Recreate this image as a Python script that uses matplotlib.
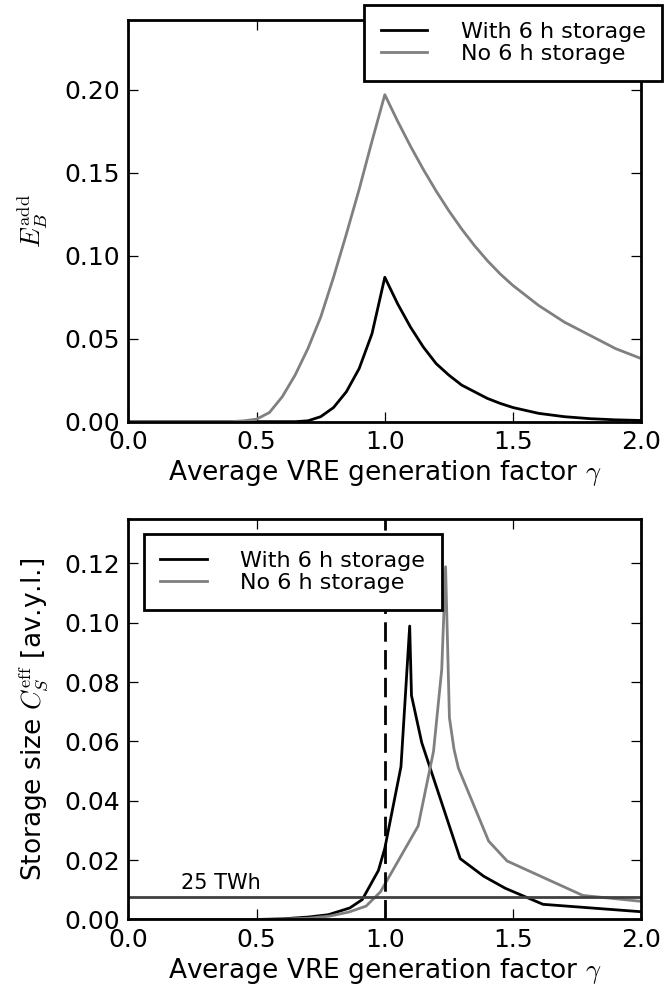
import numpy as np
import matplotlib
matplotlib.use("Agg")
import matplotlib.pyplot as plt

plt.rcParams['mathtext.fontset'] = 'cm'
plt.rcParams['font.family'] = 'DejaVu Sans'

# Datos
# Panel superior: energia de respaldo adicional E_B^add
gamma_top_con = [0.0, 0.65, 0.70, 0.75, 0.80, 0.85, 0.90, 0.95, 1.0,
                 1.05, 1.10, 1.15, 1.20, 1.25, 1.30, 1.35, 1.40, 1.45,
                 1.50, 1.60, 1.70, 1.80, 1.90, 2.0]
eb_con = [0.0, 0.0, 0.0005, 0.003, 0.0085, 0.018, 0.032, 0.053, 0.087,
          0.071, 0.057, 0.045, 0.035, 0.028, 0.022, 0.018, 0.014, 0.011,
          0.0085, 0.005, 0.003, 0.0018, 0.0011, 0.0007]

gamma_top_sin = [0.0, 0.40, 0.45, 0.50, 0.55, 0.60, 0.65, 0.70, 0.75, 0.80,
                 0.85, 0.90, 0.95, 1.0, 1.05, 1.10, 1.15, 1.20, 1.25, 1.30,
                 1.35, 1.40, 1.45, 1.50, 1.60, 1.70, 1.80, 1.90, 2.0]
eb_sin = [0.0, 0.0, 0.0005, 0.0015, 0.0055, 0.015, 0.028, 0.044, 0.063,
          0.087, 0.113, 0.140, 0.169, 0.197, 0.181, 0.166, 0.152, 0.139,
          0.127, 0.116, 0.106, 0.097, 0.089, 0.082, 0.070, 0.060, 0.052,
          0.044, 0.038]

# Panel inferior: tamano de almacenamiento C_S^eff
gamma_bot_con = [0.0, 0.5, 0.6, 0.7, 0.78, 0.864, 0.912, 0.975, 1.0, 1.063,
                 1.097, 1.104, 1.144, 1.294, 1.385, 1.47, 1.617, 2.0]
cs_con = [0.0, 0.0, 0.0002, 0.0008, 0.0016, 0.0039, 0.0067, 0.0165, 0.024,
          0.0515, 0.0989, 0.0755, 0.0596, 0.0205, 0.0146, 0.0105, 0.0051,
          0.0026]

gamma_bot_sin = [0.0, 0.55, 0.7, 0.783, 0.86, 0.927, 0.983, 1.13, 1.19,
                 1.222, 1.237, 1.252, 1.27, 1.287, 1.405, 1.477, 1.772, 2.0]
cs_sin = [0.0, 0.0, 0.0004, 0.0011, 0.0025, 0.0045, 0.0093, 0.0315, 0.0567,
          0.0843, 0.1189, 0.068, 0.0573, 0.051, 0.0264, 0.0197, 0.0081,
          0.0061]

nivel_25twh = 0.0077
etiquetas = ['With 6 h storage', 'No 6 h storage']

fig = plt.figure(figsize=(6.66, 9.94), dpi=100)
ax1 = fig.add_axes([0.1928, 0.5758, 0.770, 0.4041])
ax2 = fig.add_axes([0.1928, 0.0750, 0.770, 0.4029])


def estilo_ejes(ax):
    for s in ax.spines.values():
        s.set_linewidth(2)
    ax.tick_params(direction='in', top=True, right=True, length=7,
                   width=0.9, labelsize=18, pad=6)
    ax.set_xlim(0, 2)
    ax.set_xticks([0.0, 0.5, 1.0, 1.5, 2.0])
    ax.set_xticklabels(['%.1f' % v for v in [0.0, 0.5, 1.0, 1.5, 2.0]])
    ax.set_xlabel(r'Average VRE generation factor $\gamma$', fontsize=19,
                  labelpad=3)


def leyenda(ax, loc, ancla):
    leg = ax.legend(loc=loc, bbox_to_anchor=ancla, borderaxespad=0,
                    fontsize=16, fancybox=False, handlelength=2.1,
                    handletextpad=1.5, labelspacing=0.1, borderpad=0.75,
                    framealpha=1)
    leg.get_frame().set_linewidth(2)
    leg.get_frame().set_edgecolor('black')
    return leg


# 1. PANEL SUPERIOR
ax1.plot(gamma_top_con, eb_con, '-', color='black', lw=2, label=etiquetas[0])
ax1.plot(gamma_top_sin, eb_sin, '-', color='#808080', lw=2, label=etiquetas[1])
estilo_ejes(ax1)
ax1.set_ylim(0, 0.242)
yt1 = [0.0, 0.05, 0.10, 0.15, 0.20]
ax1.set_yticks(yt1)
ax1.set_yticklabels(['%.2f' % v for v in yt1])
ax1.set_ylabel(r'$E_B^{\rm add}$', fontsize=19, labelpad=10)
leyenda(ax1, 'upper right', (1.0406, 1.037))

# 2. PANEL INFERIOR
ax2.plot(gamma_bot_con, cs_con, '-', color='black', lw=2, label=etiquetas[0])
ax2.plot(gamma_bot_sin, cs_sin, '-', color='#808080', lw=2, label=etiquetas[1])
ax2.axvline(1.0, color='black', lw=2, dashes=(7, 3))
ax2.axhline(nivel_25twh, color='#404040', lw=2)
ax2.text(0.205, nivel_25twh + 0.0012, '25 TWh', fontsize=15, va='bottom')
estilo_ejes(ax2)
ax2.set_ylim(0, 0.135)
yt2 = [0.0, 0.02, 0.04, 0.06, 0.08, 0.10, 0.12]
ax2.set_yticks(yt2)
ax2.set_yticklabels(['%.2f' % v for v in yt2])
ax2.set_ylabel(r'Storage size $C_S^{\rm eff}$ [av.y.l.]', fontsize=19,
               labelpad=10)
leyenda(ax2, 'upper left', (0.030, 0.9625))

plt.savefig('out.png', dpi=100)
